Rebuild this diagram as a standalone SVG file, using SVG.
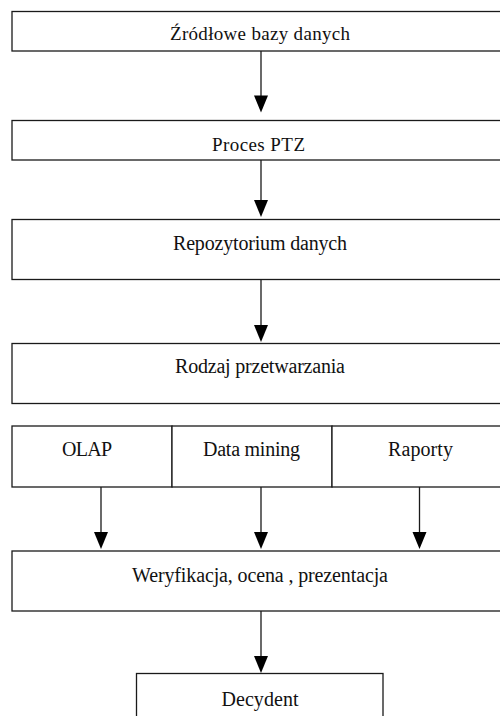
<svg xmlns="http://www.w3.org/2000/svg" width="500" height="716" viewBox="0 0 500 716">
<style>
.box{fill:#fff;stroke:#1a1a1a;stroke-width:1.3}
.ln{stroke:#1a1a1a;stroke-width:1.3;fill:none}
.ah{fill:#000}
text{font-family:"Liberation Serif","Times New Roman",serif;fill:#111;text-anchor:middle}
.s{font-size:19px}
.m{font-size:20px}
</style>
<rect width="500" height="716" fill="#fff"/>
<g id="n1"><rect class="box" x="12" y="11.5" width="500" height="39.5"/><text class="s" x="260" y="39.5" textLength="180" lengthAdjust="spacing">Źródłowe bazy danych</text></g>
<g id="n2"><rect class="box" x="12" y="120.5" width="500" height="39.5"/><text class="s" x="258.5" y="150.5" textLength="93" lengthAdjust="spacing">Proces PTZ</text></g>
<g id="n3"><rect class="box" x="12" y="219.5" width="500" height="60"/><text class="m" x="260" y="250" textLength="174" lengthAdjust="spacing">Repozytorium danych</text></g>
<g id="n4"><rect class="box" x="12" y="343.5" width="500" height="60"/><text class="m" x="260" y="372.5" textLength="170" lengthAdjust="spacing">Rodzaj przetwarzania</text></g>
<g id="n5a"><rect class="box" x="12" y="426" width="160" height="61"/><text class="m" x="87" y="456" textLength="50" lengthAdjust="spacing">OLAP</text></g>
<g id="n5b"><rect class="box" x="172" y="426" width="160" height="61"/><text class="m" x="251.5" y="456" textLength="97" lengthAdjust="spacing">Data mining</text></g>
<g id="n5c"><rect class="box" x="332" y="426" width="180" height="61"/><text class="m" x="420.5" y="456" textLength="65" lengthAdjust="spacing">Raporty</text></g>
<g id="n6"><rect class="box" x="12" y="551" width="500" height="60"/><text class="m" x="260" y="581.5" textLength="256" lengthAdjust="spacing">Weryfikacja, ocena , prezentacja</text></g>
<g id="n7"><rect class="box" x="136.5" y="673.5" width="246.5" height="60"/><text class="m" x="260" y="705.5" textLength="77" lengthAdjust="spacing">Decydent</text></g>
<g id="connectors">
<line class="ln" x1="261" y1="51" x2="261" y2="100"/><polygon class="ah" points="254,95.5 268,95.5 261,112.5"/>
<line class="ln" x1="261" y1="160" x2="261" y2="205"/><polygon class="ah" points="254,200 268,200 261,217"/>
<line class="ln" x1="261" y1="279.5" x2="261" y2="330"/><polygon class="ah" points="254,325 268,325 261,342"/>
<line class="ln" x1="101" y1="487" x2="101" y2="537"/><polygon class="ah" points="94,532 108,532 101,549"/>
<line class="ln" x1="261" y1="487" x2="261" y2="537"/><polygon class="ah" points="254,532 268,532 261,549"/>
<line class="ln" x1="419.5" y1="487" x2="419.5" y2="537"/><polygon class="ah" points="412.5,532 426.5,532 419.5,549"/>
<line class="ln" x1="261" y1="611" x2="261" y2="661"/><polygon class="ah" points="254,656 268,656 261,673"/>
</g>
</svg>
